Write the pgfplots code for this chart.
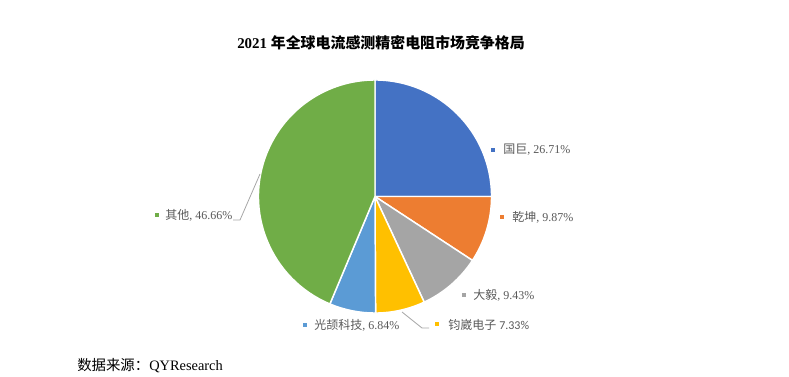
\documentclass[border=0pt]{standalone}
\usepackage{pgfplots}
\pgfplotsset{compat=1.18}
\usepackage{pgfplotstable}
\usepackage{fontspec}
\setmainfont{Liberation Serif}
\newfontfamily\cjk{Noto Sans CJK SC}
\newfontfamily\carl{Carlito}
\definecolor{col0}{HTML}{4472C4}
\definecolor{col1}{HTML}{ED7D31}
\definecolor{col2}{HTML}{A5A5A5}
\definecolor{col3}{HTML}{FFC000}
\definecolor{col4}{HTML}{5B9BD5}
\definecolor{col5}{HTML}{70AD47}
\definecolor{labgray}{HTML}{595959}
\definecolor{leadgray}{HTML}{A6A6A6}
\pgfplotstableread{
idx value
0 26.71
1 9.87
2 9.43
3 7.33
4 6.84
5 46.66
}\piedata
\begin{document}
\begin{tikzpicture}
% cumulative angles from the data
\gdef\pietotal{0}
\foreach \i in {0,...,5}{%
  \pgfplotstablegetelem{\i}{value}\of\piedata
  \pgfmathsetmacro\tmp{\pietotal+\pgfplotsretval}%
  \xdef\pietotal{\tmp}%
}
\gdef\cur{90}
\foreach \i in {0,...,5}{%
  \pgfplotstablegetelem{\i}{value}\of\piedata
  \pgfmathsetmacro\nxt{\cur-(\pgfplotsretval/\pietotal)*360}%
  \expandafter\xdef\csname sa\i\endcsname{\cur}%
  \expandafter\xdef\csname ea\i\endcsname{\nxt}%
  \xdef\cur{\nxt}%
}
\begin{axis}[
  x=0.75pt, y=0.75pt,
  xmin=0, xmax=789, ymin=0, ymax=376,
  y dir=reverse,
  hide axis, clip=false,
]
\path (axis cs:0,0) rectangle (axis cs:789,376);
\pgfplotsinvokeforeach{0,...,5}{%
  \fill[col#1, draw=white, line width=1.1pt, line join=round]
    (axis cs:375,196.5) -- ++(\csname sa#1\endcsname:87.4pt)
    arc[start angle=\csname sa#1\endcsname, end angle=\csname ea#1\endcsname, radius=87.4pt] -- cycle;
}
% leader lines
\draw[leadgray, line width=0.6pt] (axis cs:260,174) -- (axis cs:240,220) -- (axis cs:233,220);
\draw[leadgray, line width=0.6pt] (axis cs:402,312) -- (axis cs:422,328) -- (axis cs:429,328);
% title
\node[font=\fontsize{11.2}{13}\selectfont\bfseries, anchor=center] at (axis cs:381,43)
  {2021 {\cjk\bfseries 年全球电流感测精密电阻市场竞争格局}};
% labels
\tikzset{lab/.style={anchor=west, text=labgray, font=\fontsize{9}{11}\selectfont, inner sep=0pt},
         mk/.style={minimum size=3.6pt, inner sep=0pt, draw=none}}
\node[mk, fill=col0] at (axis cs:493,150) {};
\node[lab] at (axis cs:503,150) {{\cjk 国巨}, 26.71\%};
\node[mk, fill=col1] at (axis cs:502,217) {};
\node[lab] at (axis cs:512,217) {{\cjk 乾坤}, 9.87\%};
\node[mk, fill=col2] at (axis cs:464,295) {};
\node[lab] at (axis cs:473,295) {{\cjk 大毅}, 9.43\%};
\node[mk, fill=col3] at (axis cs:437,324) {};
\node[lab] at (axis cs:448,325) {{\cjk 钧崴电子} {\carl 7.33\%}};
\node[mk, fill=col4] at (axis cs:305,325) {};
\node[lab] at (axis cs:314,325) {{\cjk 光颉科技}, 6.84\%};
\node[mk, fill=col5] at (axis cs:157,215) {};
\node[lab] at (axis cs:165,215) {{\cjk 其他}, 46.66\%};
% source
\node[anchor=west, inner sep=0pt, font=\fontsize{10.8}{13}\selectfont] at (axis cs:77,366)
  {{\cjk 数据来源：}QYResearch};
\end{axis}
\end{tikzpicture}
\end{document}
